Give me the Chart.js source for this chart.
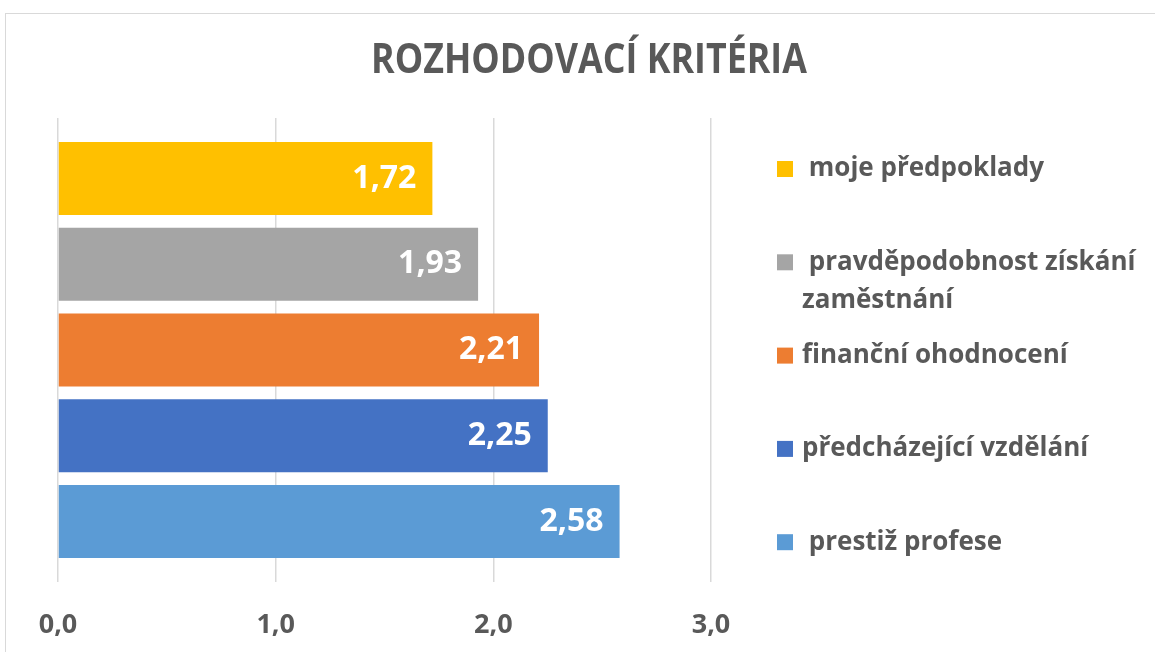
<!DOCTYPE html>
<html>
<head>
<meta charset="utf-8">
<script src="https://cdn.jsdelivr.net/npm/chart.js@4.4.0/dist/chart.umd.min.js"></script>
<style>
  html, body { margin: 0; padding: 0; background: #fff; }
  #wrap { position: relative; width: 1155px; height: 652px; overflow: hidden; }
  #frame { position: absolute; left: 5px; top: 13px; width: 1200px; height: 700px; border: 1px solid #d9d9d9; box-sizing: border-box; }
  #chart { position: absolute; left: 0; top: 0; }
</style>
</head>
<body>
<div id="wrap">
  <div id="frame"></div>
  <canvas id="chart" width="1155" height="652"></canvas>
</div>
<script>
// data
const chartTitle = "ROZHODOVACÍ KRITÉRIA";
const criteria = [" moje předpoklady", " pravděpodobnost získání\nzaměstnání", "finanční ohodnocení", "předcházející vzdělání", " prestiž profese"];
const scores = [1.72, 1.93, 2.21, 2.25, 2.58];
const colors = ["#FFC000", "#A5A5A5", "#ED7D31", "#4472C4", "#5B9BD5"];
const xTicks = [0, 1, 2, 3];

const textColor = "#595959";
const fmt = (v, d) => v.toFixed(d).replace(".", ",");

const datasets = criteria.map((name, i) => ({
  label: name,
  data: [scores[i]],
  backgroundColor: colors[i],
  categoryPercentage: 0.924,
  barPercentage: 0.851,
}));

// title centred over the whole frame (narrowed a bit to look like Calibri)
const topTitle = {
  id: "topTitle",
  afterDraw(chart) {
    const ctx = chart.ctx;
    ctx.save();
    ctx.font = "bold 41px 'Open Sans'";
    ctx.fillStyle = textColor;
    ctx.textAlign = "center";
    ctx.textBaseline = "alphabetic";
    ctx.translate(589, 73);
    ctx.scale(0.873, 1);
    ctx.fillText(chartTitle, 0, 0);
    ctx.restore();
  },
};

// value labels inside bar ends
const valueLabels = {
  id: "valueLabels",
  afterDatasetsDraw(chart) {
    const ctx = chart.ctx;
    ctx.save();
    ctx.font = "bold 32px 'Open Sans'";
    ctx.fillStyle = "#fff";
    ctx.textAlign = "right";
    ctx.textBaseline = "middle";
    chart.data.datasets.forEach((ds, i) => {
      const bar = chart.getDatasetMeta(i).data[0];
      ctx.fillText(fmt(ds.data[0], 2), bar.x - 16, bar.y);
    });
    ctx.restore();
  },
};

// legend on the right, one row per series
const sideLegend = {
  id: "sideLegend",
  afterDraw(chart) {
    const ctx = chart.ctx;
    const top = chart.chartArea.top + 51;
    const step = 93.3;
    ctx.save();
    ctx.font = "bold 26px 'Open Sans'";
    ctx.textBaseline = "middle";
    ctx.textAlign = "left";
    chart.data.datasets.forEach((ds, i) => {
      const y = top + i * step;
      ctx.fillStyle = ds.backgroundColor;
      ctx.fillRect(777, y - 8, 16, 16);
      ctx.fillStyle = textColor;
      ds.label.split("\n").forEach((line, j) => {
        ctx.fillText(line, 802, y + j * 38);
      });
    });
    ctx.restore();
  },
};

new Chart(document.getElementById("chart"), {
  type: "bar",
  data: { labels: [""], datasets: datasets },
  plugins: [topTitle, valueLabels, sideLegend],
  options: {
    indexAxis: "y",
    responsive: false,
    animation: false,
    layout: { padding: { left: 58, right: 444, top: 118, bottom: 10 } },
    plugins: {
      legend: { display: false },
      tooltip: { enabled: false },
      title: { display: false },
    },
    scales: {
      y: { display: false },
      x: {
        min: 0,
        max: 3,
        afterBuildTicks: (axis) => { axis.ticks = xTicks.map((v) => ({ value: v })); },
        afterFit: (axis) => { axis.height = 60; },
        border: { display: false },
        grid: { color: "#d9d9d9", lineWidth: 1.5, drawTicks: false },
        ticks: {
          padding: 27,
          color: textColor,
          font: { family: "'Open Sans'", size: 27, weight: "bold" },
          callback: (v) => fmt(v, 1),
        },
      },
    },
  },
});
</script>
</body>
</html>
